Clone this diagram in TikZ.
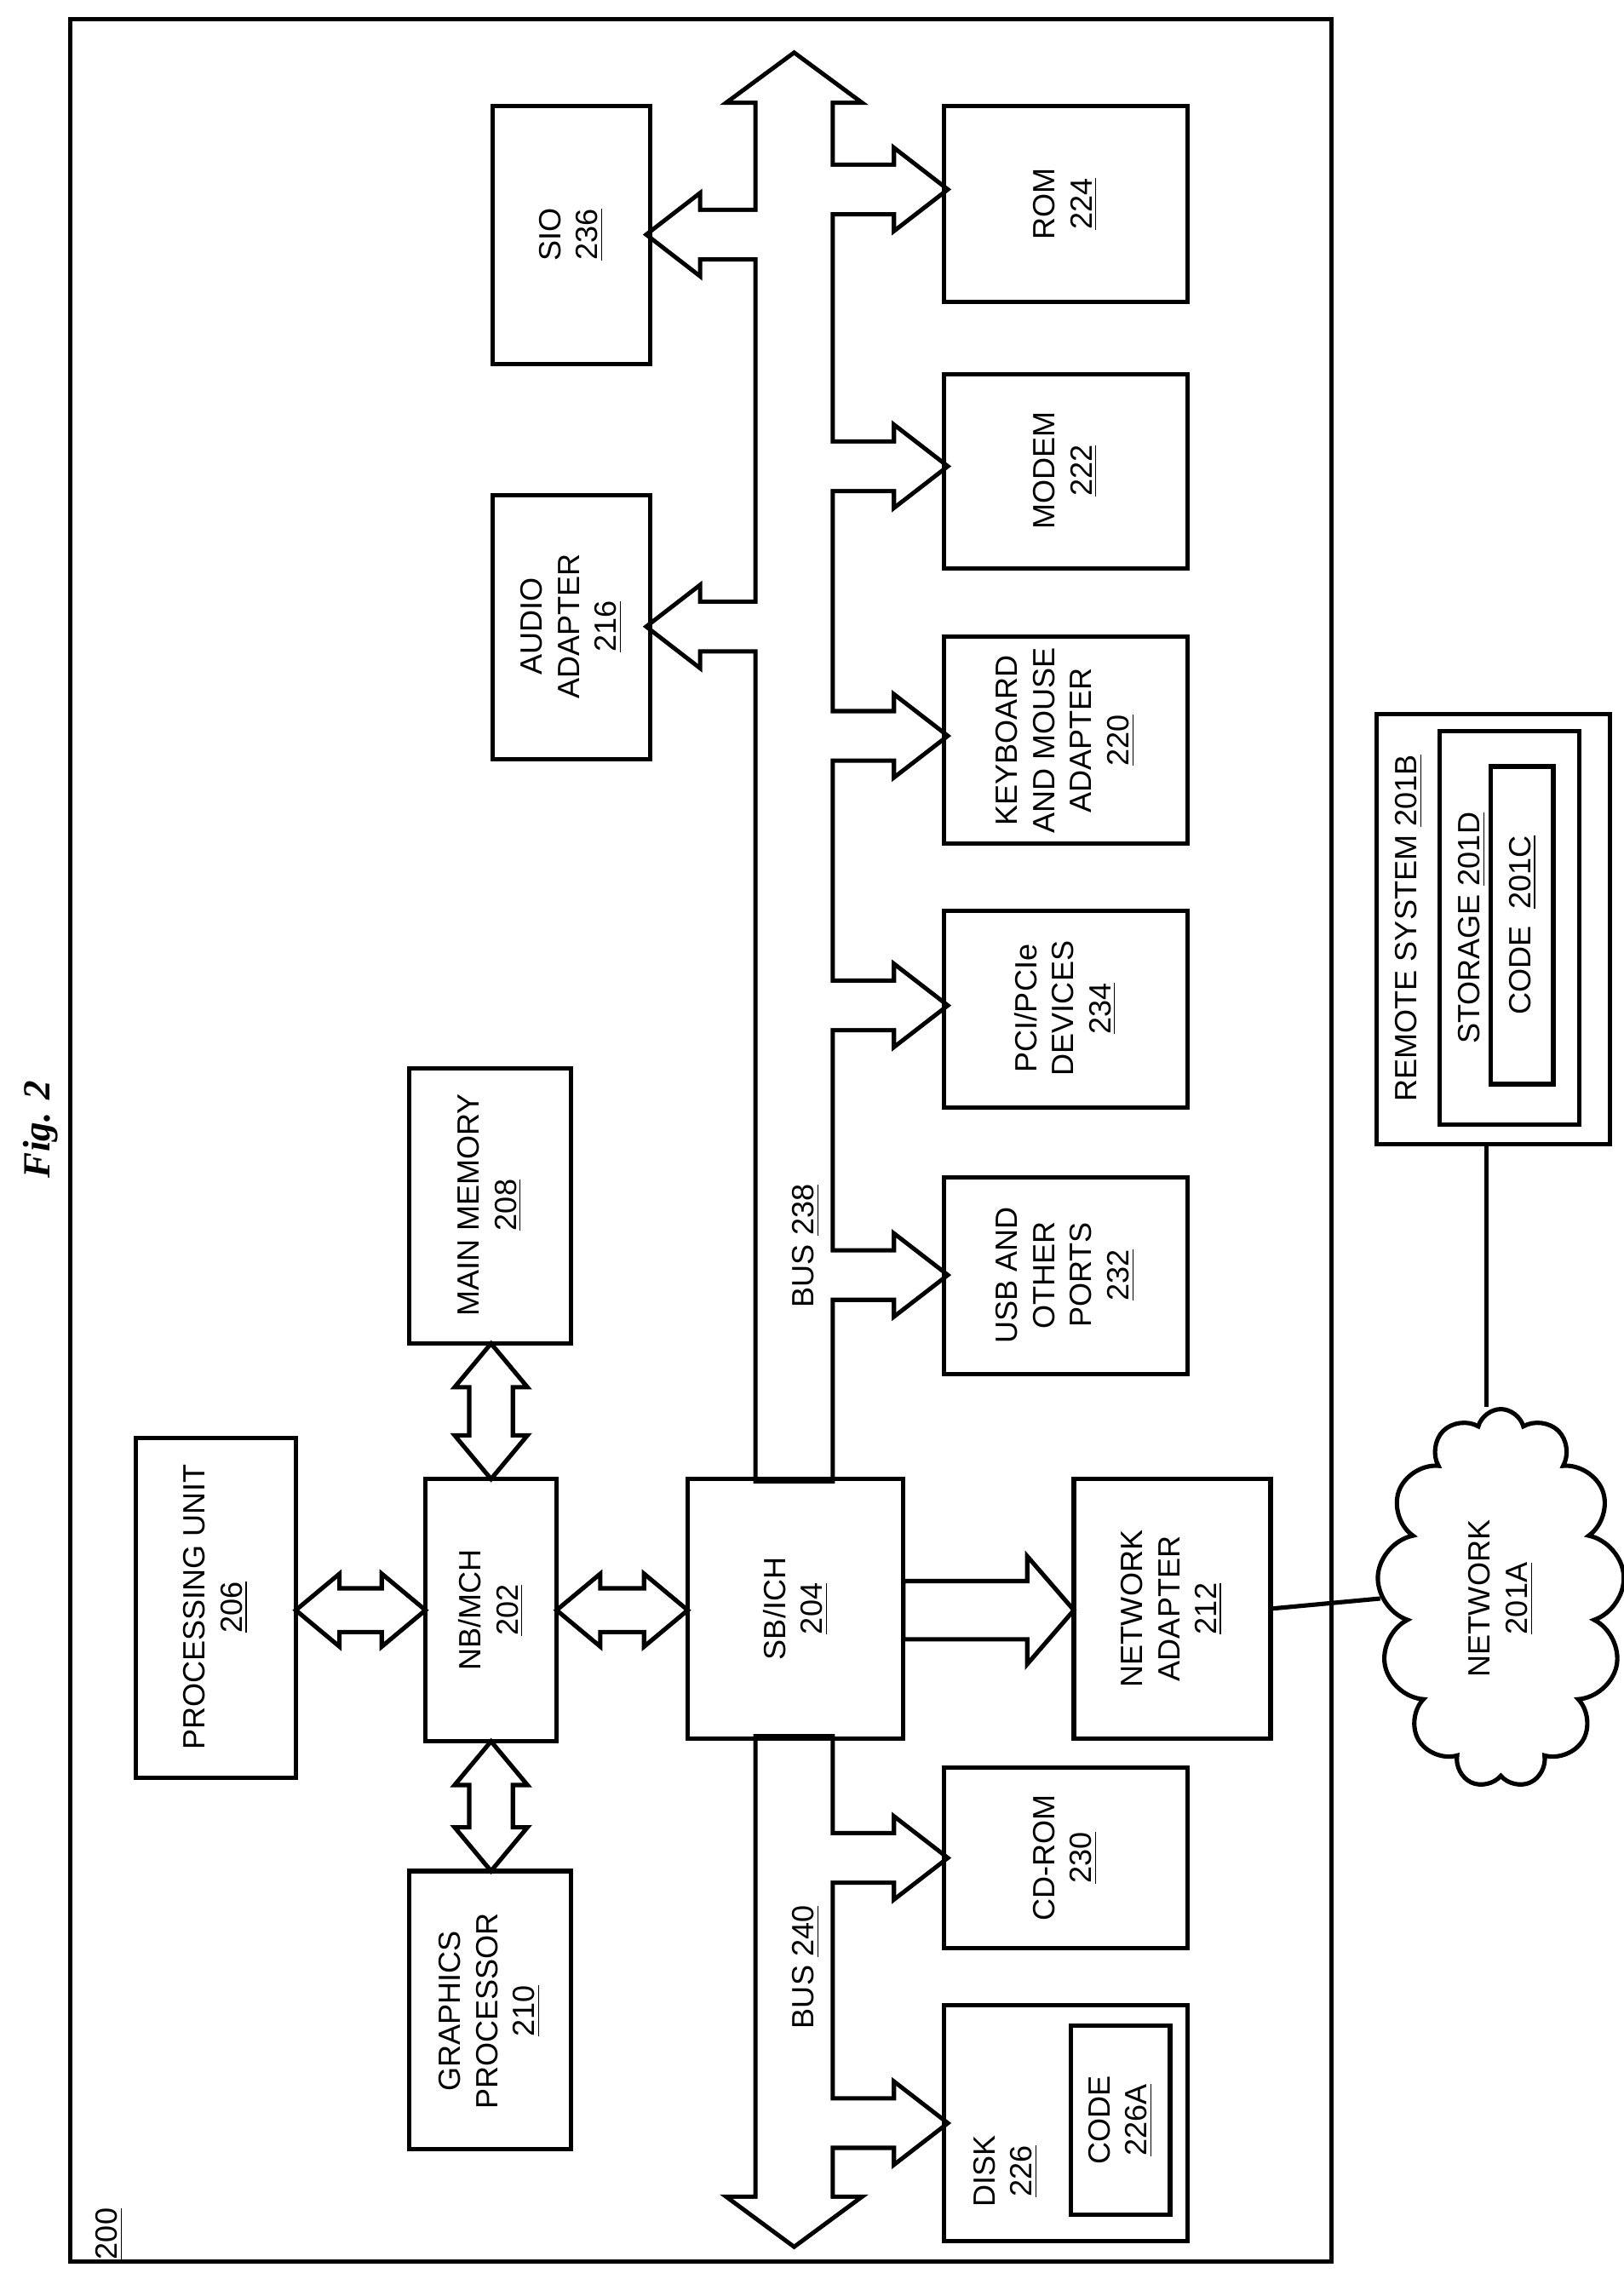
\documentclass[tikz,border=0pt]{standalone}
\usepackage{fontspec}
\setmainfont{Liberation Sans}
\newfontfamily\figfont{Liberation Serif}
\usetikzlibrary{shapes.symbols}

\tikzset{
  box/.style={line width=1.7pt},
  blk/.style={line width=1.7pt,fill=white},
  lbl/.style={rotate=90,align=center,font=\fontsize{12}{14.5}\selectfont},
}
% horizontal / vertical double block arrows
\newcommand{\hdbl}[3]{%
  \draw[blk] (#1,#3) -- ({#1+30},{#3-25}) -- ({#1+30},{#3-15}) -- ({#2-30},{#3-15})
    -- ({#2-30},{#3-25}) -- (#2,#3) -- ({#2-30},{#3+25}) -- ({#2-30},{#3+15})
    -- ({#1+30},{#3+15}) -- ({#1+30},{#3+25}) -- cycle;}
\newcommand{\vdbl}[3]{%
  \draw[blk] (#1,#2) -- ({#1-25},{#2+30}) -- ({#1-15},{#2+30}) -- ({#1-15},{#3-30})
    -- ({#1-25},{#3-30}) -- (#1,#3) -- ({#1+25},{#3-30}) -- ({#1+15},{#3-30})
    -- ({#1+15},{#2+30}) -- ({#1+25},{#2+30}) -- cycle;}
% the two buses with their branches
\newcommand{\busparts}[1]{%
  \path[#1] (520,1015) -- (520,69) -- (503,69) -- (545,38) -- (587,69) -- (570,69) -- (570,1015) -- cycle;
  \path[#1] (520,1193) -- (520,1509) -- (503,1509) -- (545,1540) -- (587,1509) -- (570,1509) -- (570,1193) -- cycle;
  \foreach \c in {130,320,505,690,875,1275,1457}
    \path[#1] (545,{\c-15.5}) -- (615,{\c-15.5}) -- (615,{\c-25.5}) -- (648,\c)
      -- (615,{\c+25.5}) -- (615,{\c+15.5}) -- (545,{\c+15.5}) -- cycle;
  \foreach \c in {161,430}
    \path[#1] (545,{\c-15.5}) -- (479,{\c-15.5}) -- (479,{\c-25.5}) -- (446,\c)
      -- (479,{\c+25.5}) -- (479,{\c+15.5}) -- (545,{\c+15.5}) -- cycle;}

\begin{document}
\begin{tikzpicture}[x=0.02cm,y=-0.02cm]
  \useasboundingbox (0,0) rectangle (1114,1564);
  \node at (28,775) [rotate=90,font=\fontsize{15}{17}\selectfont\figfont\bfseries\itshape] {Fig. 2};
  \draw[box] (48,13) rectangle (914,1552);
  \node at (75,1533) [lbl] {\underline{200}};

  % buses
  \busparts{draw,line width=3.4pt}
  \busparts{fill=white}
  \node at (553,855) [lbl] {BUS \underline{238}};
  \node at (553,1350) [lbl] {BUS \underline{240}};

  % block arrows
  \hdbl{203}{292}{1105}
  \hdbl{382}{472}{1105}
  \vdbl{337}{922}{1015}
  \vdbl{337}{1195}{1284}
  \draw[blk] (620,1085) -- (705,1085) -- (705,1068) -- (737,1105) -- (705,1142) -- (705,1125) -- (620,1125) -- cycle;

  % boxes
  \draw[box] (93,987) rectangle (203,1220);
  \node (pu) at (148,1103) [lbl] {PROCESSING UNIT\\\underline{206}};
  \draw[box] (292,1015) rectangle (382,1195);
  \node (nb) at (337,1105) [lbl] {NB/MCH\\\underline{202}};
  \draw[box] (281,733) rectangle (392,922);
  \node (mem) at (336,827) [lbl] {MAIN MEMORY\\\underline{208}};
  \draw[box] (281,1284) rectangle (392,1475);
  \node (gfx) at (336,1380) [lbl] {GRAPHICS\\PROCESSOR\\\underline{210}};
  \draw[box] (472,1015) rectangle (620,1193);
  \node (sb) at (546,1104) [lbl] {SB/ICH\\\underline{204}};
  \draw[box] (737,1015) rectangle (872,1193);
  \node (net) at (804,1104) [lbl] {NETWORK\\ADAPTER\\\underline{212}};
  \draw[box] (338,340) rectangle (446,521);
  \node (aud) at (392,430) [lbl] {AUDIO\\ADAPTER\\\underline{216}};
  \draw[box] (338,73) rectangle (446,250);
  \node (sio) at (392,161) [lbl] {SIO\\\underline{236}};
  \draw[box] (648,73) rectangle (815,207);
  \node (rom) at (731,140) [lbl] {ROM\\\underline{224}};
  \draw[box] (648,257) rectangle (815,390);
  \node (modem) at (731,323) [lbl] {MODEM\\\underline{222}};
  \draw[box] (648,437) rectangle (815,579);
  \node (kbd) at (731,508) [lbl] {KEYBOARD\\AND MOUSE\\ADAPTER\\\underline{220}};
  \draw[box] (648,625) rectangle (815,760);
  \node (pci) at (731,692) [lbl] {PCI/PCIe\\DEVICES\\\underline{234}};
  \draw[box] (648,808) rectangle (815,943);
  \node (usb) at (731,875) [lbl] {USB AND\\OTHER\\PORTS\\\underline{232}};
  \draw[box] (648,1213) rectangle (815,1337);
  \node (cd) at (731,1275) [lbl] {CD-ROM\\\underline{230}};
  \draw[box] (648,1376) rectangle (815,1538);
  \node (disk) at (690,1490) [lbl] {DISK\\\underline{226}};
  \draw[box] (735,1390) rectangle (803,1520);
  \node (code) at (769,1455) [lbl] {CODE\\\underline{226A}};

  % remote side
  \draw[box] (945,490) rectangle (1105,785);
  \node (remote) at (967,637) [lbl] {REMOTE SYSTEM \underline{201B}};
  \draw[box] (988,502) rectangle (1084,772);
  \node (stor) at (1010,637) [lbl] {STORAGE \underline{201D}};
  \draw[box] (1023,526) rectangle (1066,744);
  \node (rcode) at (1045,635) [lbl] {CODE \ \underline{201C}};
  \coordinate (rsys) at (1020,785);
  \node (cloud) at (1030,1097) [cloud,cloud puffs=13,aspect=0.6,draw,line width=1.7pt,
    minimum width=3.4cm,minimum height=5.2cm] {};
  \node at (cloud.center) [lbl] {NETWORK\\\underline{201A}};
  \coordinate (netout) at (872,1104);
  \draw[box] (netout) -- (cloud.west);
  \draw[box] (rsys) -- (rsys |- cloud.north);
\end{tikzpicture}
\end{document}
